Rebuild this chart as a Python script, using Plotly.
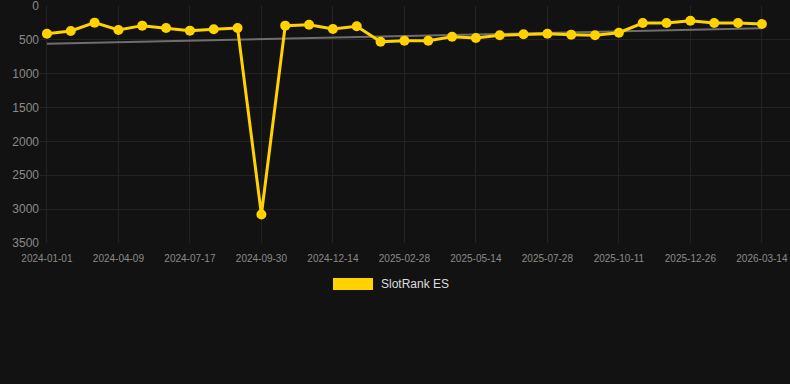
import numpy as np
import plotly.graph_objects as go

dates = [
    "2024-01-01", "2024-02-03", "2024-03-07", "2024-04-09", "2024-05-12", "2024-06-14",
    "2024-07-17", "2024-08-11", "2024-09-05", "2024-09-30", "2024-10-25", "2024-11-19",
    "2024-12-14", "2025-01-08", "2025-02-03", "2025-02-28", "2025-03-25", "2025-04-19",
    "2025-05-14", "2025-06-08", "2025-07-03", "2025-07-28", "2025-08-22", "2025-09-16",
    "2025-10-11", "2025-11-05", "2025-12-01", "2025-12-26", "2026-01-21", "2026-02-16",
    "2026-03-14",
]
rank = [
    409, 369, 246, 354, 290, 325, 364, 344, 325, 3080,
    290, 276, 340, 300, 527, 512, 512, 453, 473, 433,
    418, 409, 423, 433, 394, 251, 251, 217, 251, 251, 266,
]
y_ticks = [0, 500, 1000, 1500, 2000, 2500, 3000, 3500]
series_name = "SlotRank ES"

idx = np.arange(len(rank))
slope, intercept = np.polyfit(idx, rank, 1)
trend = slope * idx + intercept

fig = go.Figure()
fig.add_trace(go.Scatter(
    x=dates, y=trend, mode="lines",
    line=dict(color="#6e6e6e", width=2), showlegend=False, hoverinfo="skip",
))
fig.add_trace(go.Scatter(
    x=dates, y=rank, mode="lines+markers", name=series_name,
    line=dict(color="#FFD200", width=3),
    marker=dict(color="#FFD200", size=10),
    showlegend=False,
))

# legend drawn manually (filled rectangle + label)
L, R, T, B = 40, 0, 6, 141
W, H = 790, 384
pw, ph = W - L - R, H - T - B
def px(x):
    return (x - L) / pw
def py(y):
    return (H - B - y) / ph
fig.add_shape(type="rect", xref="paper", yref="paper",
              x0=px(333), x1=px(373), y0=py(290), y1=py(278),
              fillcolor="#FFD200", line=dict(width=0))
fig.add_annotation(xref="paper", yref="paper", x=px(379), y=py(284),
                   text=series_name, showarrow=False, xanchor="left", yanchor="middle",
                   font=dict(color="#dddddd", size=12, family="Liberation Sans, Arial"))

fig.update_layout(
    width=W, height=H,
    margin=dict(l=L, r=R, t=T, b=B),
    paper_bgcolor="#121212", plot_bgcolor="#121212",
    font=dict(family="Liberation Sans, Arial", color="#8a8a8a"),
    showlegend=False,
)
fig.update_xaxes(
    type="category", range=[-0.29, 31.18],
    tickvals=dates[::3], ticktext=dates[::3],
    showgrid=True, gridcolor="#232323", gridwidth=1,
    tickfont=dict(size=10, color="#8a8a8a"),
    showline=False, zeroline=False, ticks="", ticklabelstandoff=8,
    ticklabeloverflow="allow",
)
fig.update_yaxes(
    range=[3500, 0], tickvals=y_ticks,
    showgrid=True, gridcolor="#232323", gridwidth=1,
    tickfont=dict(size=12, color="#8a8a8a"),
    zeroline=False, showline=False, ticks="",
    ticklabeloverflow="allow",
)
fig.write_html("out.html")
